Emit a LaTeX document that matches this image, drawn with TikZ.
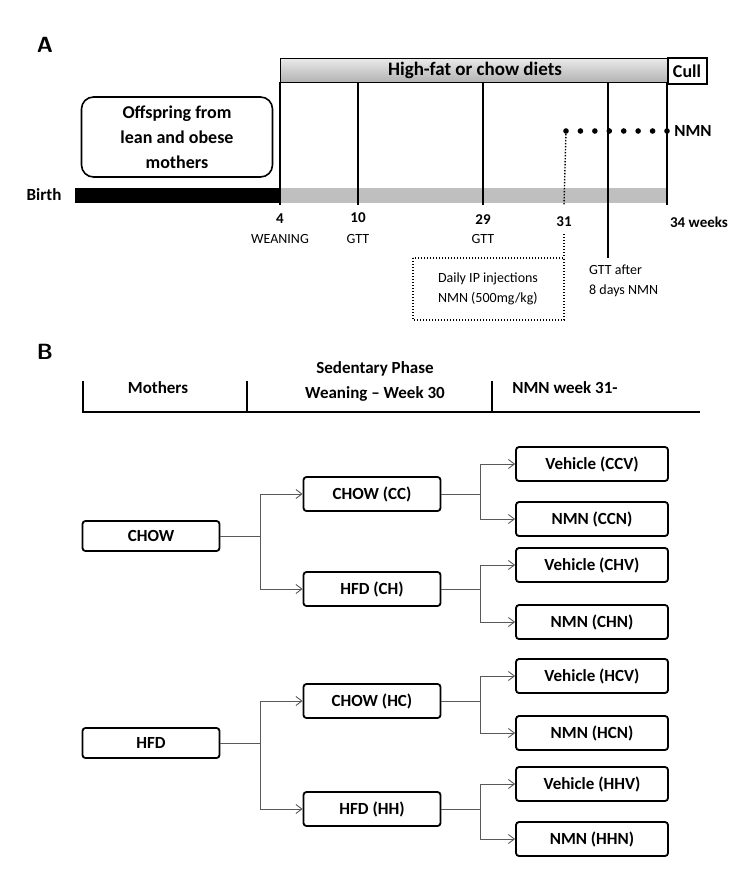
\documentclass[tikz,border=0pt]{standalone}
\usepackage{fontspec}
\setmainfont{Carlito}
\usetikzlibrary{arrows.meta,calc}
\begin{document}
\begin{tikzpicture}[x=1pt,y=-1pt,
  bx/.style={draw,line width=1.8pt,rounded corners=3pt,minimum width=152pt,minimum height=34pt,font=\bfseries\fontsize{17}{19}\selectfont,inner sep=2pt},
  mb/.style={bx,minimum width=137pt,minimum height=30pt},
  sb/.style={bx,minimum width=137pt},
  lb/.style={font=\bfseries\fontsize{15}{16}\selectfont,inner sep=0pt},
  ln/.style={font=\fontsize{14}{15}\selectfont,inner sep=0pt},
  hd/.style={font=\bfseries\fontsize{17}{18}\selectfont,inner sep=0pt},
  con/.style={draw=black!65,line width=0.9pt},
  arr/.style={con,-{Straight Barb[length=6pt,width=9pt]}},
  dt/.style={line width=1.4pt,dash pattern=on 1.4pt off 1.6pt}]
\useasboundingbox (0,0) rectangle (734,884);
% Panel A
\node[font=\sffamily\bfseries\fontsize{22}{24}\selectfont] (A) at (45,45) {A};
\shade[top color=black!8,bottom color=black!30] (280,58) rectangle (668,82);
\draw[line width=0.8pt] (280,58) rectangle (668,82);
\node[hd,font=\bfseries\fontsize{19}{20}\selectfont] (diet) at (475,70) {High-fat or chow diets};
\draw[line width=1.4pt] (668,58) rectangle (707,84);
\node[hd,font=\bfseries\fontsize{18}{20}\selectfont] (cull) at (687,71) {Cull};
\node[draw,line width=1.6pt,rounded corners=12pt,minimum width=191pt,minimum height=80pt,align=center,font=\bfseries\fontsize{18}{25}\selectfont,inner sep=2pt] (off) at (177,137) {Offspring from\\lean and obese\\mothers};
\fill[black] (75,188) rectangle (280,203);
\fill[black!25] (280,188) rectangle (667,203);
\node[hd] (birth) at (44,195) {Birth};
\foreach \xx/\yy in {280/205,358/205,483/205,667/205,608/258}
  \draw[line width=1.3pt] (\xx,82) -- (\xx,\yy);
\coordinate (n0) at (566,131);
\coordinate (n1) at (667,131);
\foreach \i in {0,...,7} \fill ($(n0)!\i/7!(n1)$) circle (2.8pt);
\node[hd] (nmn) at (693,131) {NMN};
\draw[dt] (n0) -- (564,205);
\draw[dt] (564,234) -- (564,258);
\draw[dt] (413,258) rectangle (564,320);
\node[ln,align=left] (ip) at (488,289) {Daily IP injections\\[5pt]NMN (500mg/kg)};
\node[ln,align=left,anchor=west] (gtt8) at (589,281) {GTT after\\[5pt]8 days NMN};
\node[lb] (w4) at (280,219) {4};
\node[ln] (wean) at (280,239) {WEANING};
\node[lb] (w10) at (358,218) {10};
\node[ln] (g10) at (358,239) {GTT};
\node[lb] (w29) at (483,220) {29};
\node[ln] (g29) at (483,239) {GTT};
\node[lb] (w31) at (564,222) {31};
\node[lb] (w34) at (699,222) {34 weeks};
% Panel B
\node[font=\sffamily\bfseries\fontsize{22}{24}\selectfont] (B) at (45,352) {B};
\draw[line width=1.8pt] (83,381) -- (83,412) -- (700,412);
\draw[line width=1.8pt] (247,381) -- (247,412);
\draw[line width=1.8pt] (492,381) -- (492,412);
\node[hd] (h1) at (158,388) {Mothers};
\node[hd,align=center] (h2) at (375,381) {Sedentary Phase\\[7pt]Weaning -- Week 30};
\node[hd] (h3) at (565,388) {NMN week 31-};
\node[mb] (chow) at (151,536) {CHOW};
\node[mb] (hfd) at (151,743) {HFD};
\node[sb] (cc) at (372,494) {CHOW (CC)};
\node[sb] (ch) at (372,589) {HFD (CH)};
\node[sb] (hc) at (372,701) {CHOW (HC)};
\node[sb] (hh) at (372,809) {HFD (HH)};
\node[bx] (ccv) at (592,464) {Vehicle (CCV)};
\node[bx] (ccn) at (592,519) {NMN (CCN)};
\node[bx] (chv) at (592,565) {Vehicle (CHV)};
\node[bx] (chn) at (592,622) {NMN (CHN)};
\node[bx] (hcv) at (592,676) {Vehicle (HCV)};
\node[bx] (hcn) at (592,733) {NMN (HCN)};
\node[bx] (hhv) at (592,784) {Vehicle (HHV)};
\node[bx] (hhn) at (592,839) {NMN (HHN)};
\foreach \p/\a/\b/\xx in {chow/cc/ch/260,hfd/hc/hh/260,cc/ccv/ccn/480,ch/chv/chn/480,hc/hcv/hcn/480,hh/hhv/hhn/480}{
  \draw[con] (\p.east) -- (\xx,0 |- \p.east);
  \draw[arr] (\xx,0 |- \p.east) |- (\a.west);
  \draw[arr] (\xx,0 |- \p.east) |- (\b.west);
}
\end{tikzpicture}
\end{document}
